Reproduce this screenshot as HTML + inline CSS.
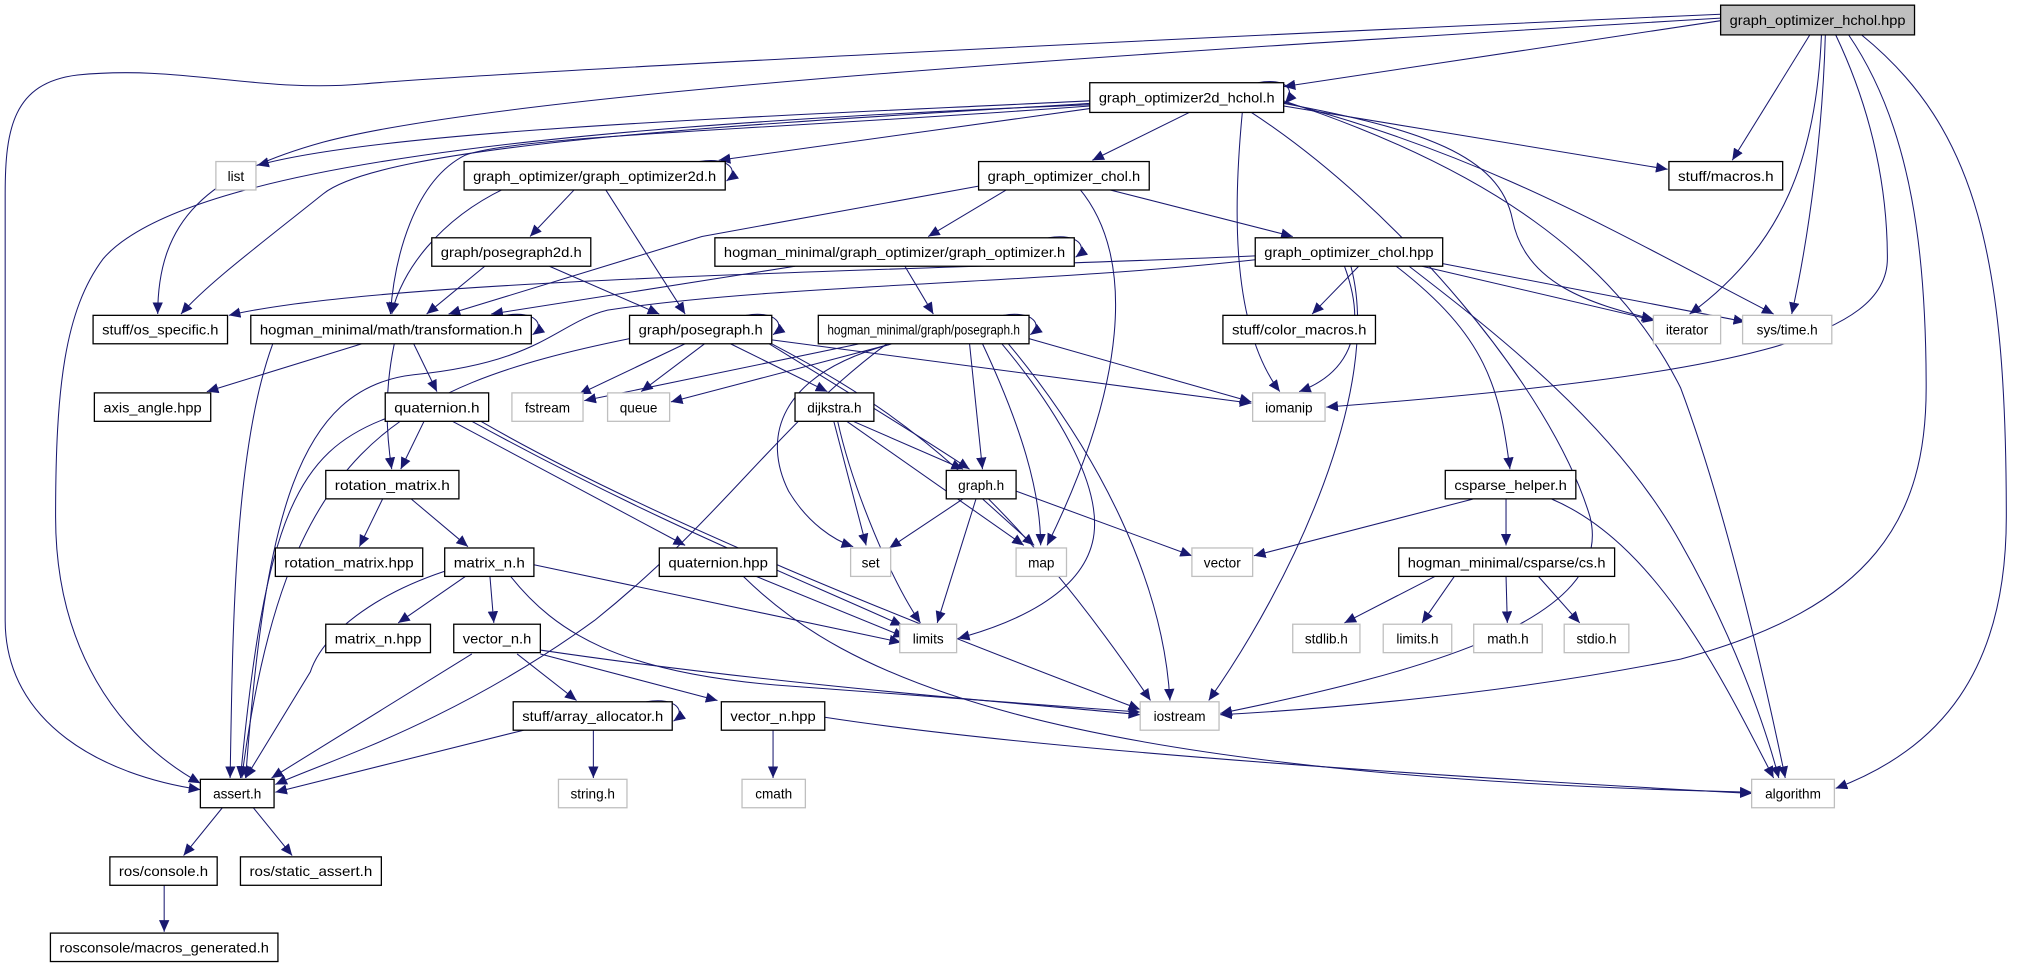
<!DOCTYPE html>
<html><head><meta charset="utf-8"><style>
html,body{margin:0;padding:0;background:#fff;}
svg{display:block;}
text{font-family:"Liberation Sans",sans-serif;font-size:10.5px;fill:#000;}
.n{fill:#fff;stroke:#000;stroke-width:1;}
.g{fill:#fff;stroke:#bfbfbf;stroke-width:1;}
.e{fill:none;stroke:#191970;stroke-width:0.8;marker-end:url(#a);}
</style></head><body>
<svg width="2027" height="968" viewBox="0 0 1568 749" preserveAspectRatio="none" xmlns="http://www.w3.org/2000/svg">
<defs><marker id="a" markerUnits="userSpaceOnUse" markerWidth="10" markerHeight="8" refX="9" refY="4" orient="auto"><path d="M0,0 L9,4 L0,8 z" fill="#191970"/></marker></defs>
<g>
<path class="e" d="M1331,16 L993,67"/>
<path class="e" d="M1331,11 C900,30 400,55 280,65 C200,72 140,50 60,58 C10,64 4,100 4,150 L4,480 C4,560 80,600 155,611"/>
<path class="e" d="M1331,14 C900,40 400,70 250,110 C160,135 122,170 122,243"/>
<path class="e" d="M1400,27 L1340,124"/>
<path class="e" d="M1409,27 C1405,120 1380,190 1307,243"/>
<path class="e" d="M1412,27 C1410,100 1400,180 1386,243"/>
<path class="e" d="M1420,27 C1450,90 1460,150 1460,200 C1460,260 1350,290 1026,315"/>
<path class="e" d="M1430,27 C1480,100 1490,200 1490,300 C1490,400 1450,470 1300,510 C1150,540 1000,550 944,553"/>
<path class="e" d="M1440,27 C1530,100 1552,200 1552,400 C1552,520 1500,580 1420,610"/>
<path class="e" d="M973,64 C995,60 1003,70 994,80"/>
<path class="e" d="M843,78 C600,90 300,100 199,128"/>
<path class="e" d="M843,80 C600,95 300,110 250,150 C200,190 160,220 140,243"/>
<path class="e" d="M843,81 C500,95 150,120 80,200 C50,240 43,300 43,400 C43,500 90,570 155,606"/>
<path class="e" d="M843,84 L556,124"/>
<path class="e" d="M920,87 L845,124"/>
<path class="e" d="M843,82 C600,100 400,105 360,120 C320,140 305,200 302,243"/>
<path class="e" d="M961,87 C955,150 950,250 990,303"/>
<path class="e" d="M968,87 C1080,160 1200,300 1230,400 C1250,480 1100,520 944,552"/>
<path class="e" d="M993,82 L1290,131"/>
<path class="e" d="M993,80 C1100,100 1160,120 1170,170 C1180,220 1230,235 1279,247"/>
<path class="e" d="M993,79 C1150,120 1250,180 1372,243"/>
<path class="e" d="M993,78 C1150,130 1250,200 1300,300 C1330,380 1360,500 1381,602"/>
<path class="e" d="M541,125 C565,121 572,133 562,140"/>
<path class="e" d="M445,146 L410,183"/>
<path class="e" d="M390,146 C340,170 310,210 303,243"/>
<path class="e" d="M468,146 L530,243"/>
<path class="e" d="M780,146 L718,183"/>
<path class="e" d="M757,144 L543,183 L347,243"/>
<path class="e" d="M835,146 C880,200 870,300 810,422"/>
<path class="e" d="M855,146 L1000,183"/>
<path class="e" d="M375,206 L330,243"/>
<path class="e" d="M425,206 L510,243"/>
<path class="e" d="M811,184 C835,180 842,192 832,199"/>
<path class="e" d="M615,206 L380,243"/>
<path class="e" d="M700,206 L722,243"/>
<path class="e" d="M971,198 C700,210 300,215 177,244"/>
<path class="e" d="M971,201 C800,220 600,220 470,240 C430,250 420,280 320,290 C230,300 205,400 190,602"/>
<path class="e" d="M1051,206 L1015,243"/>
<path class="e" d="M1040,206 C1060,260 1040,290 1005,303"/>
<path class="e" d="M1045,206 C1070,300 1000,450 935,542"/>
<path class="e" d="M1080,206 C1150,260 1160,300 1168,363"/>
<path class="e" d="M1100,206 L1280,248"/>
<path class="e" d="M1116,204 L1350,249"/>
<path class="e" d="M1090,206 C1160,260 1250,330 1300,420 C1340,490 1365,560 1376,602"/>
<path class="e" d="M391,244 C415,240 422,252 412,259"/>
<path class="e" d="M280,266 L160,303"/>
<path class="e" d="M320,266 L338,303"/>
<path class="e" d="M305,266 C298,300 298,330 303,363"/>
<path class="e" d="M211,266 C180,350 180,500 178,602"/>
<path class="e" d="M577,244 C601,240 608,252 598,259"/>
<path class="e" d="M530,266 L448,305"/>
<path class="e" d="M545,266 L496,303"/>
<path class="e" d="M565,266 L640,303"/>
<path class="e" d="M487,262 C300,300 220,350 187,602"/>
<path class="e" d="M595,266 C650,300 700,330 750,363"/>
<path class="e" d="M597,266 C700,320 780,380 890,542"/>
<path class="e" d="M597,263 L968,312"/>
<path class="e" d="M776,244 C800,240 807,252 797,259"/>
<path class="e" d="M665,266 L452,310"/>
<path class="e" d="M690,266 L519,311"/>
<path class="e" d="M686,266 C600,330 560,400 460,480 C350,560 250,590 213,607"/>
<path class="e" d="M690,266 C600,290 590,340 610,380 C625,405 645,418 660,423"/>
<path class="e" d="M750,266 L760,363"/>
<path class="e" d="M760,266 C790,330 805,380 805,422"/>
<path class="e" d="M775,266 C820,320 855,380 845,420 C835,460 785,482 741,494"/>
<path class="e" d="M780,266 C850,350 900,450 905,542"/>
<path class="e" d="M796,262 L968,311"/>
<path class="e" d="M645,326 L670,422"/>
<path class="e" d="M660,326 L745,363"/>
<path class="e" d="M655,326 L792,422"/>
<path class="e" d="M648,326 C660,380 690,450 712,482"/>
<path class="e" d="M745,386 L688,424"/>
<path class="e" d="M760,386 L800,422"/>
<path class="e" d="M755,386 L725,482"/>
<path class="e" d="M786,380 L922,430"/>
<path class="e" d="M1140,386 L970,430"/>
<path class="e" d="M1165,386 L1165,422"/>
<path class="e" d="M1200,386 C1280,420 1330,520 1372,602"/>
<path class="e" d="M1110,446 L1040,482"/>
<path class="e" d="M1125,446 L1100,482"/>
<path class="e" d="M1165,446 L1166,482"/>
<path class="e" d="M1190,446 L1222,482"/>
<path class="e" d="M328,326 L310,363"/>
<path class="e" d="M298,324 C230,350 205,400 186,602"/>
<path class="e" d="M350,326 L530,422"/>
<path class="e" d="M365,326 C500,400 600,440 698,484"/>
<path class="e" d="M372,326 C500,400 700,480 882,549"/>
<path class="e" d="M296,386 L278,423"/>
<path class="e" d="M318,386 L362,423"/>
<path class="e" d="M360,446 L308,482"/>
<path class="e" d="M379,446 L382,482"/>
<path class="e" d="M344,442 C290,460 250,490 240,520 L190,602"/>
<path class="e" d="M413,437 L697,497"/>
<path class="e" d="M395,446 C430,490 480,520 600,530 L882,551"/>
<path class="e" d="M585,446 L700,493"/>
<path class="e" d="M575,446 C650,520 800,600 1355,613"/>
<path class="e" d="M365,506 L210,602"/>
<path class="e" d="M400,506 L446,542"/>
<path class="e" d="M418,506 L555,542"/>
<path class="e" d="M418,503 C600,530 800,545 882,553"/>
<path class="e" d="M500,543 C524,539 531,551 521,558"/>
<path class="e" d="M405,565 L213,613"/>
<path class="e" d="M459,565 L459,602"/>
<path class="e" d="M598,565 L598,602"/>
<path class="e" d="M638,555 C800,580 1100,600 1355,614"/>
<path class="e" d="M172,625 L142,662"/>
<path class="e" d="M196,625 L226,662"/>
<path class="e" d="M127,685 L127,721"/>
</g>
<g>
<rect x="1331" y="4" width="150" height="23" fill="#bfbfbf" stroke="#000"/><text x="1406" y="19.5" text-anchor="middle" textLength="136" lengthAdjust="spacingAndGlyphs">graph_optimizer_hchol.hpp</text>
<rect class="n" x="843" y="64" width="150" height="23"/><text x="918" y="79.5" text-anchor="middle" textLength="136" lengthAdjust="spacingAndGlyphs">graph_optimizer2d_hchol.h</text>
<rect class="g" x="167" y="125" width="31" height="22"/><text x="182.5" y="140" text-anchor="middle">list</text>
<rect class="n" x="359" y="125" width="202" height="22"/><text x="460" y="140" text-anchor="middle" textLength="188" lengthAdjust="spacingAndGlyphs">graph_optimizer/graph_optimizer2d.h</text>
<rect class="n" x="757" y="125" width="132" height="22"/><text x="823" y="140" text-anchor="middle" textLength="118" lengthAdjust="spacingAndGlyphs">graph_optimizer_chol.h</text>
<rect class="n" x="1291" y="125" width="88" height="22"/><text x="1335" y="140" text-anchor="middle" textLength="74" lengthAdjust="spacingAndGlyphs">stuff/macros.h</text>
<rect class="n" x="334" y="184" width="123" height="22"/><text x="395.5" y="199" text-anchor="middle" textLength="109" lengthAdjust="spacingAndGlyphs">graph/posegraph2d.h</text>
<rect class="n" x="553" y="184" width="278" height="22"/><text x="692" y="199" text-anchor="middle" textLength="264" lengthAdjust="spacingAndGlyphs">hogman_minimal/graph_optimizer/graph_optimizer.h</text>
<rect class="n" x="971" y="184" width="145" height="22"/><text x="1043.5" y="199" text-anchor="middle" textLength="131" lengthAdjust="spacingAndGlyphs">graph_optimizer_chol.hpp</text>
<rect class="n" x="72" y="244" width="104" height="22"/><text x="124" y="259" text-anchor="middle" textLength="90" lengthAdjust="spacingAndGlyphs">stuff/os_specific.h</text>
<rect class="n" x="194" y="244" width="217" height="22"/><text x="302.5" y="259" text-anchor="middle" textLength="203" lengthAdjust="spacingAndGlyphs">hogman_minimal/math/transformation.h</text>
<rect class="n" x="487" y="244" width="110" height="22"/><text x="542" y="259" text-anchor="middle" textLength="96" lengthAdjust="spacingAndGlyphs">graph/posegraph.h</text>
<rect class="n" x="633" y="244" width="163" height="22"/><text x="714.5" y="259" text-anchor="middle" textLength="149" lengthAdjust="spacingAndGlyphs">hogman_minimal/graph/posegraph.h</text>
<rect class="n" x="946" y="244" width="118" height="22"/><text x="1005" y="259" text-anchor="middle" textLength="104" lengthAdjust="spacingAndGlyphs">stuff/color_macros.h</text>
<rect class="g" x="1279" y="244" width="52" height="22"/><text x="1305" y="259" text-anchor="middle">iterator</text>
<rect class="g" x="1348" y="244" width="69" height="22"/><text x="1382.5" y="259" text-anchor="middle">sys/time.h</text>
<rect class="n" x="73" y="304" width="90" height="22"/><text x="118" y="319" text-anchor="middle" textLength="76" lengthAdjust="spacingAndGlyphs">axis_angle.hpp</text>
<rect class="n" x="298" y="304" width="80" height="22"/><text x="338" y="319" text-anchor="middle" textLength="66" lengthAdjust="spacingAndGlyphs">quaternion.h</text>
<rect class="g" x="396" y="304" width="55" height="22"/><text x="423.5" y="319" text-anchor="middle">fstream</text>
<rect class="g" x="470" y="304" width="48" height="22"/><text x="494" y="319" text-anchor="middle">queue</text>
<rect class="n" x="615" y="304" width="61" height="22"/><text x="645.5" y="319" text-anchor="middle">dijkstra.h</text>
<rect class="g" x="969" y="304" width="56" height="22"/><text x="997" y="319" text-anchor="middle">iomanip</text>
<rect class="n" x="252" y="364" width="103" height="22"/><text x="303.5" y="379" text-anchor="middle" textLength="89" lengthAdjust="spacingAndGlyphs">rotation_matrix.h</text>
<rect class="n" x="732" y="364" width="54" height="22"/><text x="759" y="379" text-anchor="middle">graph.h</text>
<rect class="n" x="1118" y="364" width="101" height="22"/><text x="1168.5" y="379" text-anchor="middle" textLength="87" lengthAdjust="spacingAndGlyphs">csparse_helper.h</text>
<rect class="n" x="213" y="424" width="114" height="22"/><text x="270" y="439" text-anchor="middle" textLength="100" lengthAdjust="spacingAndGlyphs">rotation_matrix.hpp</text>
<rect class="n" x="344" y="424" width="69" height="22"/><text x="378.5" y="439" text-anchor="middle" textLength="55" lengthAdjust="spacingAndGlyphs">matrix_n.h</text>
<rect class="n" x="510" y="424" width="91" height="22"/><text x="555.5" y="439" text-anchor="middle" textLength="77" lengthAdjust="spacingAndGlyphs">quaternion.hpp</text>
<rect class="g" x="658" y="424" width="31" height="22"/><text x="673.5" y="439" text-anchor="middle">set</text>
<rect class="g" x="786" y="424" width="39" height="22"/><text x="805.5" y="439" text-anchor="middle">map</text>
<rect class="g" x="922" y="424" width="47" height="22"/><text x="945.5" y="439" text-anchor="middle">vector</text>
<rect class="n" x="1082" y="424" width="167" height="22"/><text x="1165.5" y="439" text-anchor="middle" textLength="153" lengthAdjust="spacingAndGlyphs">hogman_minimal/csparse/cs.h</text>
<rect class="n" x="252" y="483" width="81" height="22"/><text x="292.5" y="498" text-anchor="middle" textLength="67" lengthAdjust="spacingAndGlyphs">matrix_n.hpp</text>
<rect class="n" x="351" y="483" width="67" height="22"/><text x="384.5" y="498" text-anchor="middle" textLength="53" lengthAdjust="spacingAndGlyphs">vector_n.h</text>
<rect class="g" x="696" y="483" width="44" height="22"/><text x="718" y="498" text-anchor="middle">limits</text>
<rect class="g" x="1000" y="483" width="52" height="22"/><text x="1026" y="498" text-anchor="middle">stdlib.h</text>
<rect class="g" x="1070" y="483" width="53" height="22"/><text x="1096.5" y="498" text-anchor="middle">limits.h</text>
<rect class="g" x="1140" y="483" width="53" height="22"/><text x="1166.5" y="498" text-anchor="middle">math.h</text>
<rect class="g" x="1210" y="483" width="50" height="22"/><text x="1235" y="498" text-anchor="middle">stdio.h</text>
<rect class="n" x="397" y="543" width="123" height="22"/><text x="458.5" y="558" text-anchor="middle" textLength="109" lengthAdjust="spacingAndGlyphs">stuff/array_allocator.h</text>
<rect class="n" x="558" y="543" width="80" height="22"/><text x="598" y="558" text-anchor="middle" textLength="66" lengthAdjust="spacingAndGlyphs">vector_n.hpp</text>
<rect class="g" x="882" y="543" width="61" height="22"/><text x="912.5" y="558" text-anchor="middle">iostream</text>
<rect class="n" x="155" y="603" width="57" height="22"/><text x="183.5" y="618" text-anchor="middle">assert.h</text>
<rect class="g" x="432" y="603" width="53" height="22"/><text x="458.5" y="618" text-anchor="middle">string.h</text>
<rect class="g" x="574" y="603" width="49" height="22"/><text x="598.5" y="618" text-anchor="middle">cmath</text>
<rect class="g" x="1355" y="603" width="64" height="22"/><text x="1387" y="618" text-anchor="middle">algorithm</text>
<rect class="n" x="85" y="663" width="83" height="22"/><text x="126.5" y="678" text-anchor="middle" textLength="69" lengthAdjust="spacingAndGlyphs">ros/console.h</text>
<rect class="n" x="186" y="663" width="109" height="22"/><text x="240.5" y="678" text-anchor="middle" textLength="95" lengthAdjust="spacingAndGlyphs">ros/static_assert.h</text>
<rect class="n" x="39" y="722" width="176" height="22"/><text x="127" y="737" text-anchor="middle" textLength="162" lengthAdjust="spacingAndGlyphs">rosconsole/macros_generated.h</text>
</g>
</svg>
</body></html>
